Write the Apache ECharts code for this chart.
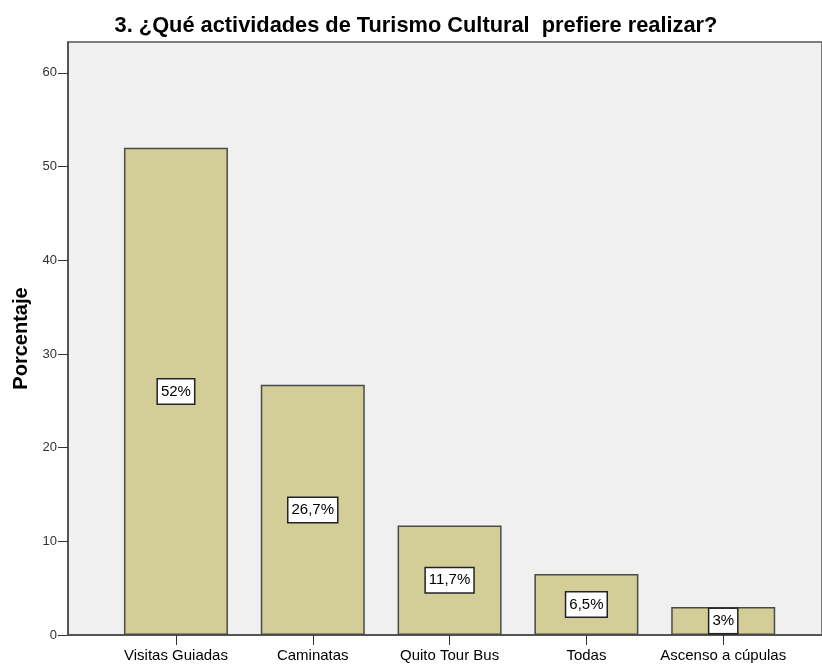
<!DOCTYPE html>
<html>
<head>
<meta charset="utf-8">
<script src="https://cdn.jsdelivr.net/npm/echarts@6/dist/echarts.min.js"></script>
<style>
  html, body { margin: 0; padding: 0; background: #ffffff; }
  #chart { width: 822px; height: 665px; }
</style>
</head>
<body>
<div id="chart"></div>
<script>
const categories = ["Visitas Guiadas", "Caminatas", "Quito Tour Bus", "Todas", "Ascenso a cúpulas"];
const porcentajes = [52, 26.7, 11.7, 6.5, 3];
const etiquetas = ["52%", "26,7%", "11,7%", "6,5%", "3%"];
const yTicks = [0, 10, 20, 30, 40, 50, 60];

const chart = echarts.init(document.getElementById("chart"));

let option = {
  animation: false,
  backgroundColor: "#ffffff",
  title: {
    text: "3. ¿Qué actividades de Turismo Cultural  prefiere realizar?",
    left: 411,
    textAlign: "center",
    top: 10,
    textStyle: {
      fontFamily: "Liberation Sans",
      fontSize: 21.8,
      fontWeight: "bold",
      color: "#000000",
    },
  },
  grid: {
    left: 68,
    top: 42,
    right: 0,
    bottom: 30,
    show: true,
    backgroundColor: "#f0f0f0",
    borderColor: "#555555",
    borderWidth: 1.5,
  },
  xAxis: {
    type: "value",
    min: -0.789,
    max: 4.722,
    splitLine: { show: false },
    axisLine: { show: true, onZero: false, lineStyle: { color: "#555555", width: 2 } },
    axisTick: {
      show: true,
      customValues: [0, 1, 2, 3, 4],
      length: 10,
      lineStyle: { color: "#333333", width: 1 },
    },
    axisLabel: {
      customValues: [0, 1, 2, 3, 4],
      formatter: function (v) {
        return categories[Math.round(v)];
      },
      margin: 13,
      fontFamily: "Liberation Sans",
      fontSize: 15,
      color: "#000000",
    },
  },
  yAxis: {
    type: "value",
    min: 0,
    max: 63.3,
    name: "Porcentaje",
    nameLocation: "middle",
    nameGap: 36,
    nameTextStyle: {
      fontFamily: "Liberation Sans",
      fontSize: 20,
      fontWeight: "bold",
      color: "#000000",
    },
    splitLine: { show: false },
    axisLine: { show: true, onZero: false, lineStyle: { color: "#555555", width: 2 } },
    axisTick: {
      show: true,
      customValues: yTicks,
      length: 10,
      lineStyle: { color: "#333333", width: 1 },
    },
    axisLabel: {
      customValues: yTicks,
      margin: 11,
      fontFamily: "Liberation Sans",
      fontSize: 13,
      color: "#333333",
    },
  },
  series: [
    {
      type: "bar",
      barWidth: 104,
      data: porcentajes.map((v, i) => [i, v]),
      itemStyle: {
        color: "#d3ce97",
        borderColor: "#4a4a4a",
        borderWidth: 1.5,
      },
      label: {
        show: true,
        position: "inside",
        formatter: function (p) {
          return etiquetas[p.dataIndex];
        },
        fontFamily: "Liberation Sans",
        fontSize: 15,
        color: "#000000",
        backgroundColor: "#ffffff",
        borderColor: "#222222",
        borderWidth: 1.5,
        padding: [5, 3, 4, 3],
      },
    },
  ],
};

chart.setOption(option);
</script>
</body>
</html>
